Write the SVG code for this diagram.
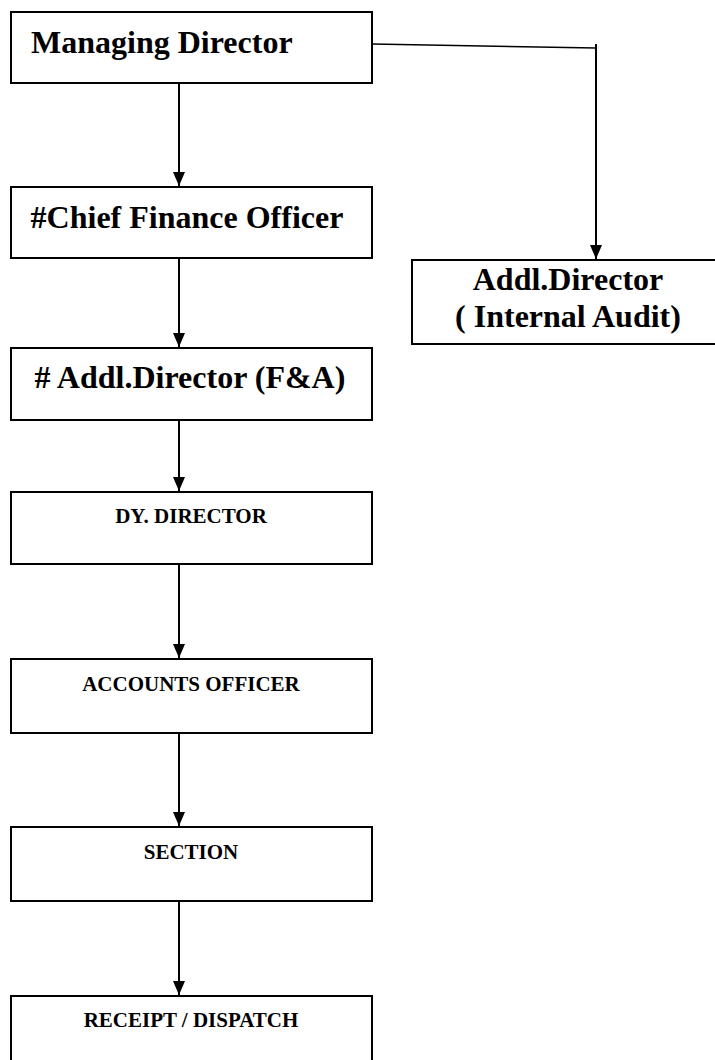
<svg xmlns="http://www.w3.org/2000/svg" width="715" height="1060" viewBox="0 0 715 1060">
<style>
.box{fill:#fff;stroke:#000;stroke-width:2}
.big{font-family:"Liberation Serif","Times New Roman",serif;font-weight:bold;font-size:32px;fill:#000}
.small{font-family:"Liberation Serif","Times New Roman",serif;font-weight:bold;font-size:21px;fill:#000;text-anchor:middle}
.c{text-anchor:middle}
.line{stroke:#000;stroke-width:2;fill:none}
</style>
<rect width="715" height="1060" fill="#fff"/>
<g id="connectors">
<path class="line" d="M179,83 V186"/>
<path class="line" d="M179,258 V347"/>
<path class="line" d="M179,420 V491"/>
<path class="line" d="M179,564 V658"/>
<path class="line" d="M179,733 V826"/>
<path class="line" d="M179,901 V995"/>
<path class="line" style="stroke-width:1.5" d="M372,44 L596,48"/>
<path class="line" d="M596,44 V259"/>
<g fill="#000">
<path d="M173,172 L185,172 L179,186 Z"/>
<path d="M173,333 L185,333 L179,347 Z"/>
<path d="M173,477 L185,477 L179,491 Z"/>
<path d="M173,644 L185,644 L179,658 Z"/>
<path d="M173,812 L185,812 L179,826 Z"/>
<path d="M173,981 L185,981 L179,995 Z"/>
<path d="M590,245 L602,245 L596,259 Z"/>
</g>
</g>
<g id="md">
<rect class="box" x="11" y="12" width="361" height="71"/>
<text class="big" x="31" y="53">Managing Director</text>
</g>
<g id="cfo">
<rect class="box" x="11" y="187" width="361" height="71"/>
<text class="big c" x="187" y="228">#Chief Finance Officer</text>
</g>
<g id="adfa">
<rect class="box" x="11" y="348" width="361" height="72"/>
<text class="big c" x="190" y="388"># Addl.Director (F&amp;A)</text>
</g>
<g id="dy">
<rect class="box" x="11" y="492" width="361" height="72"/>
<text class="small" x="191" y="523">DY. DIRECTOR</text>
</g>
<g id="ao">
<rect class="box" x="11" y="659" width="361" height="74"/>
<text class="small" x="191" y="691">ACCOUNTS OFFICER</text>
</g>
<g id="section">
<rect class="box" x="11" y="827" width="361" height="74"/>
<text class="small" x="191" y="859">SECTION</text>
</g>
<g id="rd">
<rect class="box" x="11" y="996" width="361" height="74"/>
<text class="small" x="191" y="1027">RECEIPT / DISPATCH</text>
</g>
<g id="ia">
<rect class="box" x="412" y="260" width="320" height="84"/>
<text class="big c" x="568" y="290">Addl.Director</text>
<text class="big c" x="568" y="327">( Internal Audit)</text>
</g>
</svg>
